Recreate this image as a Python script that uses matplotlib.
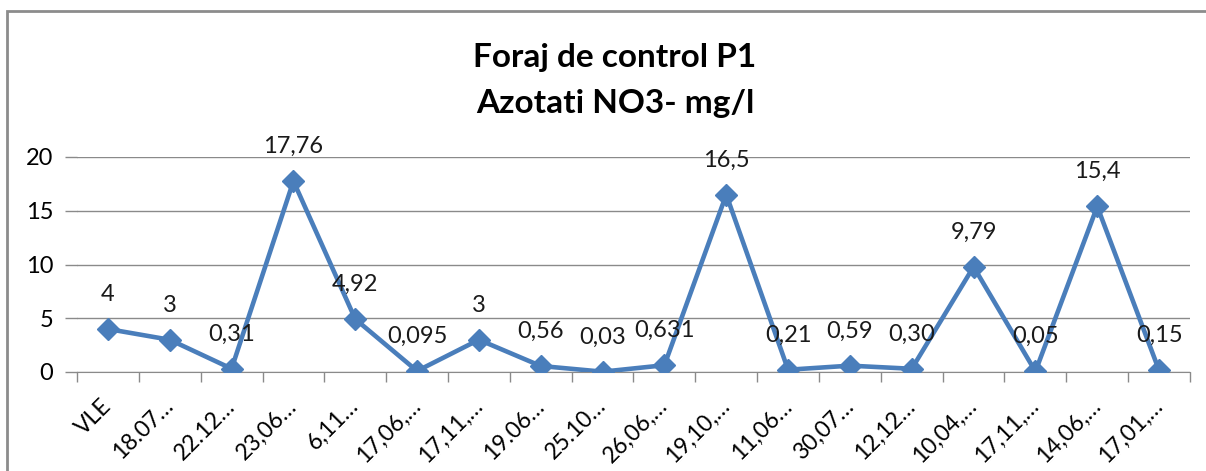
import numpy as np
import matplotlib
matplotlib.use("Agg")
import matplotlib.pyplot as plt
from matplotlib.patches import Rectangle

plt.rcParams['font.family'] = ['Lato', 'DejaVu Sans']

# data
categories = ["VLE", "18.07…", "22.12…", "23,06…", "6,11…", "17,06,…",
              "17,11,…", "19.06…", "25.10…", "26,06,…", "19,10,…", "11,06…",
              "30,07…", "12,12…", "10,04,…", "17,11,…", "14,06,…", "17,01,…"]
values = [4, 3, 0.31, 17.76, 4.92, 0.095, 3, 0.56, 0.03, 0.631, 16.5, 0.21,
          0.59, 0.30, 9.79, 0.05, 15.4, 0.15]
value_labels = ["4", "3", "0,31", "17,76", "4,92", "0,095", "3", "0,56", "0,03",
                "0,631", "16,5", "0,21", "0,59", "0,30", "9,79", "0,05", "15,4", "0,15"]
yticks = [0, 5, 10, 15, 20]

W, H = 1206, 471
fig = plt.figure(figsize=(W / 100, H / 100), dpi=100)
fig.patch.set_facecolor('white')

# chart border
fig.add_artist(Rectangle((7 / W, -0.02), (W + 10) / W, (H - 11) / H + 0.02,
                         transform=fig.transFigure, fill=False,
                         edgecolor='#8c8c8c', linewidth=2))

ax = fig.add_axes([77 / W, (H - 372) / H, (1190 - 77) / W, (372 - 157) / H])
x = np.arange(len(values))
ax.plot(x, values, color='#4a7ebb', linewidth=3.3, marker='D', markersize=11,
        markerfacecolor='#4a7ebb', markeredgecolor='#4a7ebb', zorder=3)

for xi, v, lab in zip(x, values, value_labels):
    ax.annotate(lab, (xi, v), xytext=(0, 25), textcoords='offset points',
                ha='center', va='center', fontsize=17, color='#1a1a1a')

ax.set_xlim(-0.5, len(values) - 0.5)
ax.set_ylim(0, 20)
ax.set_yticks(yticks)
ax.set_yticklabels([str(t) for t in yticks])
ax.yaxis.grid(True, color='#8a8a8a', linewidth=1)
ax.set_axisbelow(True)

ax.set_xticks(x)
ax.set_xticklabels(categories, rotation=45, ha='right', va='center',
                   rotation_mode='anchor', fontsize=16.5)
ax.set_xticks(np.arange(len(values) + 1) - 0.5, minor=True)
ax.tick_params(axis='x', which='major', length=0, pad=22)
ax.tick_params(axis='x', which='minor', length=7, color='#8a8a8a', width=1)
ax.tick_params(axis='y', length=9, color='#8a8a8a', width=1, labelsize=17, pad=8)

for s in ['top', 'right', 'left']:
    ax.spines[s].set_visible(False)
ax.spines['bottom'].set_color('#8a8a8a')

fig.text(615 / W, 1 - 57 / H, "Foraj de control P1", ha='center', va='center',
         fontsize=24, fontweight='bold', color='#000000')
fig.text(615 / W, 1 - 103 / H, "Azotati NO3- mg/l", ha='center', va='center',
         fontsize=24, fontweight='bold', color='#000000')

fig.savefig('out.png', dpi=100)
